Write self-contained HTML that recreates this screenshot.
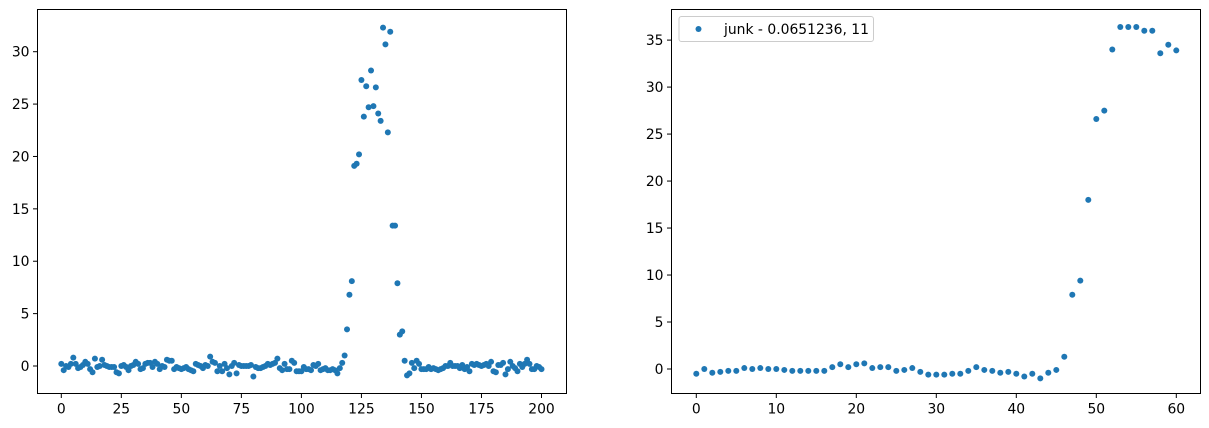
<!DOCTYPE html>
<html><head><meta charset="utf-8"><style>
body{margin:0;background:#fff}
svg{display:block;font-family:"DejaVu Sans","Liberation Sans",sans-serif;font-size:13.9px}
</style></head><body>
<svg id="c" width="1209" height="428">
<g id="left"></g>
<g id="right"></g>
</svg>
<script>
const leftValues=[0.2,-0.4,0,-0.1,0.2,0.8,0.2,-0.2,-0.1,0.1,0.4,0.2,-0.3,-0.6,0.7,-0.1,0,0.6,0.1,0,-0.1,-0.1,-0.1,-0.6,-0.7,0,0.1,-0.1,-0.4,0,0.1,0.4,0.2,-0.3,-0.2,0.2,0.3,0.3,-0.1,0.4,0.2,-0.3,0,-0.1,0.6,0.5,0.5,-0.3,-0.1,-0.2,-0.3,-0.2,-0.1,-0.3,-0.4,-0.5,0.2,0.1,0,-0.2,0.1,0,0.9,0.4,0.3,-0.5,0,-0.5,0.2,-0.2,-0.8,0,0.3,-0.7,0.1,0,0,0,0,0.1,-1.0,-0.1,-0.2,-0.2,-0.1,0,0.2,0.1,0.2,0.3,0.7,-0.2,-0.4,0.2,-0.3,-0.3,0.5,0.3,-0.5,-0.5,-0.5,-0.1,-0.3,-0.3,-0.4,0.1,0,0.2,-0.4,-0.3,-0.2,-0.4,-0.4,-0.3,-0.4,-0.7,-0.2,0.3,1.0,3.5,6.8,8.1,19.1,19.3,20.2,27.3,23.8,26.7,24.7,28.2,24.8,26.6,24.1,23.4,32.3,30.7,22.3,31.9,13.4,13.4,7.9,3.0,3.3,0.5,-0.9,-0.7,0.3,-0.2,0.5,0.2,-0.3,-0.3,-0.3,-0.1,-0.3,-0.2,-0.3,-0.4,-0.3,-0.2,0,0,0.3,0,0,0,-0.2,0.1,-0.3,-0.1,-0.5,0.2,0.1,0.2,0.1,0,0.1,0.2,0,0.4,-0.5,-0.6,0.1,0.1,0.3,-0.8,-0.3,0.4,0,-0.2,-0.5,0.2,-0.1,0.2,0.6,0.2,-0.3,-0.3,0,-0.1,-0.3];
const leftXTicks=[0,25,50,75,100,125,150,175,200];
const leftYTicks=[0,5,10,15,20,25,30];
const rightValues=[-0.5,0,-0.4,-0.3,-0.2,-0.2,0.1,0,0.1,0,0,-0.1,-0.2,-0.2,-0.2,-0.2,-0.2,0.2,0.5,0.2,0.5,0.6,0.1,0.2,0.2,-0.2,-0.1,0.1,-0.3,-0.6,-0.6,-0.6,-0.5,-0.5,-0.2,0.2,-0.1,-0.2,-0.4,-0.3,-0.5,-0.8,-0.5,-1.0,-0.4,-0.1,1.3,7.9,9.4,18.0,26.6,27.5,34.0,36.4,36.4,36.4,36.0,36.0,33.6,34.5,33.9];
const rightXTicks=[0,10,20,30,40,50,60];
const rightYTicks=[0,5,10,15,20,25,30,35];
const legendLabel="junk - 0.0651236, 11";

const NS="http://www.w3.org/2000/svg";
function mk(parent,tag,attrs,text){const e=document.createElementNS(NS,tag);for(const k in attrs)e.setAttribute(k,attrs[k]);if(text!==undefined)e.textContent=text;parent.appendChild(e);return e;}

function drawChart(g,box,xs,ys,values,xTicks,yTicks,prefix){
  const sx=v=>xs.p0+(v-xs.v0)*xs.k;
  const sy=v=>ys.p0-(v-ys.v0)*ys.k;
  values.forEach((v,i)=>{
    const c=mk(g,'circle',{cx:sx(i),cy:sy(v),r:3,fill:'#1f77b4'});
    
    
  });
  const r=mk(g,'rect',{x:box.x,y:box.y,width:box.w,height:box.h,fill:'none',stroke:'#000','stroke-width':1});
  
  
  xTicks.forEach(t=>{
    const x=sx(t);
    mk(g,'line',{x1:x,x2:x,y1:box.y+box.h,y2:box.y+box.h+4.5,stroke:'#000','stroke-width':1});
    const tx=mk(g,'text',{x:x,y:box.y+box.h+20,'text-anchor':'middle',fill:'#000'},String(t));
    
    
  });
  yTicks.forEach(t=>{
    const y=sy(t);
    mk(g,'line',{x1:box.x-4.5,x2:box.x,y1:y,y2:y,stroke:'#000','stroke-width':1});
    const tx=mk(g,'text',{x:box.x-8,y:y+5,'text-anchor':'end',fill:'#000'},String(t));
    
    
  });
}
drawChart(document.getElementById('left'),{x:37.5,y:9.5,w:529,h:384},
  {p0:61.3,v0:0,k:(541.5-61.3)/200},{p0:366,v0:0,k:(366-51.7)/30},
  leftValues,leftXTicks,leftYTicks,'left');
const R=document.getElementById('right');
drawChart(R,{x:671.5,y:9.5,w:529,h:384},
  {p0:696.3,v0:0,k:(1176.3-696.3)/60},{p0:369,v0:0,k:(369-40.1)/35},
  rightValues,rightXTicks,rightYTicks,'right');
const lg=mk(R,'g',{});


mk(lg,'rect',{x:679,y:16.5,width:194.5,height:25,rx:2.5,fill:'#fff','fill-opacity':0.8,stroke:'#ccc','stroke-width':1});
mk(lg,'circle',{cx:698.5,cy:29,r:3,fill:'#1f77b4'});
const lt=mk(lg,'text',{x:724,y:34,fill:'#000'},legendLabel);


</script>
</body></html>
